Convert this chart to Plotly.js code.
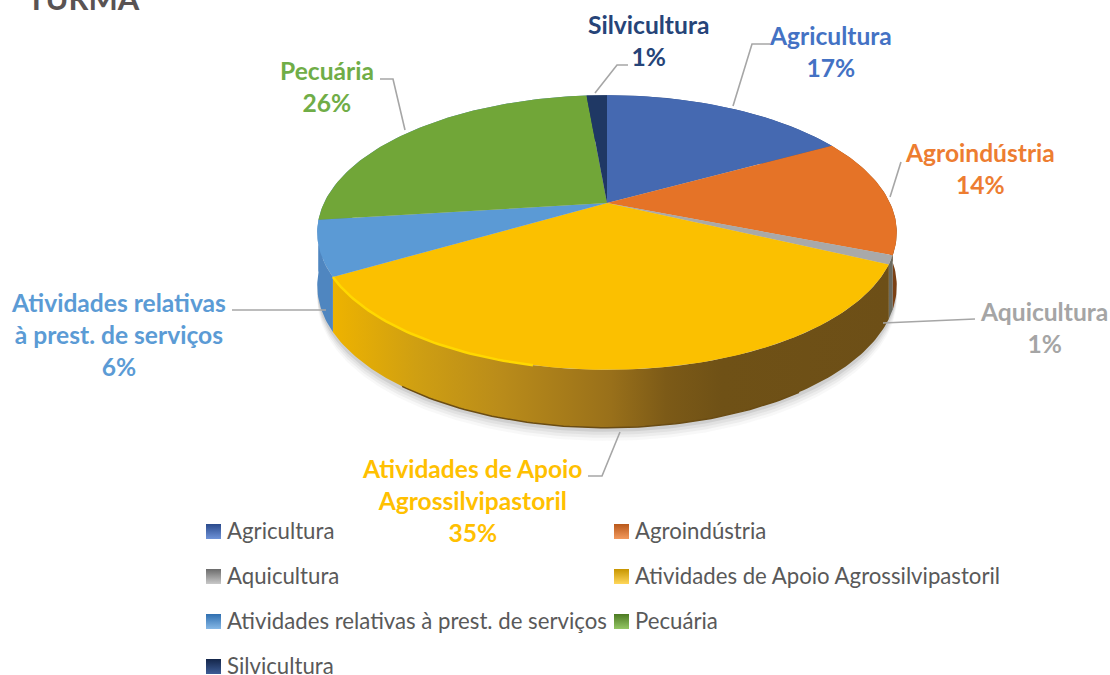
<!DOCTYPE html>
<html><head><meta charset="utf-8">
<script src="https://cdn.plot.ly/plotly-3.0.1.min.js"></script>
<style>html,body{margin:0;padding:0;background:#fff;overflow:hidden}#c{width:1110px;height:675px}</style>
</head><body><div id="c"></div>
<script>
// ---- data ----
const categories = ['Agricultura','Agroindústria','Aquicultura','Atividades de Apoio Agrossilvipastoril','Atividades relativas à prest. de serviços','Pecuária','Silvicultura'];
const shares = [17,14,1,34.6,6.4,25.6,1.4];
const labelLines = [['Agricultura'],['Agroindústria'],['Aquicultura'],['Atividades de Apoio','Agrossilvipastoril'],['Atividades relativas','à prest. de serviços'],['Pecuária'],['Silvicultura']];
const chartTitle = 'TURMA';

// ---- styles ----
const topColors = ['#4569b1','#e57327','#a9a9a9','#fbc000','#5b9ad5','#71a638','#1f3864'];
const labelColors = ['#4472c4','#ed7d31','#a5a5a5','#ffc000','#5b9bd5','#70ad47','#264478'];
const wallScales = [
  [[0,'#35528a'],[1,'#35528a']],
  [[0,'#a0561c'],[1,'#7a4014']],
  [[0,'#6b6b60'],[1,'#6b6b60']],
  [[0,'#eeb300'],[.15,'#cf9f12'],[.3,'#ba8c1a'],[.5,'#99701a'],[.6,'#7c5a17'],[.7,'#6f5116'],[1,'#6d4f17']],
  [[0,'#4f86c0'],[1,'#4f86c0']],
  [[0,'#4f86c0'],[1,'#4f86c0']],
  [[0,'#1f3864'],[1,'#1f3864']]
];
const legendDark = ['#2a4a8c','#b9581a','#6b6b6b','#c79500','#2f6fb0','#4c7a22','#14264a'];
const legendLight = ['#6f93d8','#f39a5e','#c9c9c9','#ffd75a','#86b8e6','#94c765','#3d5c96'];

// ---- layout geometry (pixels of the 1110x675 frame) ----
const apex = {x:607,y:203}, persp = 0.2146, radX = 283, radY = 131;
const labelPos = [[830,51],[980,168],[1044,327],[472,500],[118,334],[327,86],[648,40]];
const leaders = [
  [[770,44],[752,44],[733,106]],
  [[901,162],[890,197]],
  [[975,319],[883,323]],
  [[588,476],[602,476],[620,432]],
  [[232,310],[326,310]],
  [[380,79],[393,79],[405,130]],
  [[628,65],[617,65],[595,93]]
];
const keyPos = [[213.5,531.5],[621.5,531.5],[213.5,576.5],[621.5,576.5],[213.5,621.5],[621.5,621.5],[213.5,666.5]];
const keyTextPos = [[227,533],[635,533],[227,578],[635,578],[227,623],[635,623],[227,668]];

function project(t){
  const u=Math.sin(t), v=Math.cos(t), d=1+persp*v;
  return {x:apex.x+radX*u/d, y:apex.y-radY*v/d, drop:52-6*v};
}
function arcAngles(a,b){
  const out=[]; const n=Math.max(2,Math.ceil((b-a)/(Math.PI/180)));
  for(let i=0;i<=n;i++) out.push(a+(b-a)*i/n);
  return out;
}
const total = shares.reduce((s,v)=>s+v,0);
let acc=0;
const spans = shares.map(v=>{const a=acc/total*2*Math.PI; acc+=v; return [a,acc/total*2*Math.PI];});
const pct = shares.map(v=>Math.round(v/total*100)+'%');

const traces=[];
// soft drop shadow
[[13,'rgba(160,160,160,0.07)'],[10,'rgba(150,150,150,0.10)'],[7,'rgba(150,150,150,0.13)'],[4,'rgba(130,130,130,0.18)']].forEach(([off,col])=>{
  const pts=arcAngles(0,2*Math.PI).map(project);
  traces.push({type:'scatter',mode:'lines',x:pts.map(p=>p.x),y:pts.map(p=>p.y+p.drop+off),fill:'toself',fillcolor:col,line:{width:0},hoverinfo:'skip',showlegend:false});
});
// side walls
spans.forEach(([a,b],i)=>{
  const pts=arcAngles(a,b).map(project);
  const xs=pts.map(p=>p.x).concat(pts.slice().reverse().map(p=>p.x));
  const ys=pts.map(p=>p.y).concat(pts.slice().reverse().map(p=>p.y+p.drop));
  const mn=Math.min(...xs), mx=Math.max(...xs);
  traces.push({type:'scatter',mode:'lines',x:xs,y:ys,fill:'toself',line:{width:0,color:wallScales[i][0][1]},
    fillgradient:{type:'horizontal',colorscale:wallScales[i],start:mn,stop:mx},
    name:categories[i]+' (lateral)',hoverinfo:'skip',showlegend:false});
});
// dark lower rim of the largest wall
(function(){
  const s=spans[3], pts=arcAngles(s[0],s[1]).map(project).filter(p=>p.x<800 && p.x>400);
  traces.push({type:'scatter',mode:'lines',x:pts.map(p=>p.x),y:pts.map(p=>p.y+p.drop),line:{color:'#6a4c14',width:1.5},hoverinfo:'skip',showlegend:false});
})();
// top faces
spans.forEach(([a,b],i)=>{
  const pts=arcAngles(a,b).map(project);
  traces.push({type:'scatter',mode:'lines',x:[apex.x].concat(pts.map(p=>p.x),[apex.x]),y:[apex.y].concat(pts.map(p=>p.y),[apex.y]),
    fill:'toself',fillcolor:topColors[i],line:{width:0,color:topColors[i]},name:categories[i],
    text:pct[i],hoverinfo:'name+text',showlegend:false});
});
// bevel highlight on the front-left rim of the largest slice
(function(){
  const s=spans[3], pts=arcAngles(s[0],s[1]).map(project).filter(p=>p.x<535);
  traces.push({type:'scatter',mode:'lines',x:pts.map(p=>p.x),y:pts.map(p=>p.y),line:{color:'#ffd800',width:2.5},hoverinfo:'skip',showlegend:false});
})();
// leader lines
leaders.forEach(seg=>{
  traces.push({type:'scatter',mode:'lines',x:seg.map(p=>p[0]),y:seg.map(p=>p[1]),line:{color:'#a6a6a6',width:1.6},hoverinfo:'skip',showlegend:false});
});
// legend keys and entries
categories.forEach((name,c)=>{
  traces.push({type:'scatter',mode:'markers',x:[keyPos[c][0]],y:[keyPos[c][1]],
    marker:{symbol:'square',size:15,color:legendDark[c],gradient:{type:'vertical',color:legendLight[c]},line:{width:0}},
    cliponaxis:false,hoverinfo:'skip',showlegend:false});
  traces.push({type:'scatter',mode:'text',x:[keyTextPos[c][0]],y:[keyTextPos[c][1]],
    text:[name],textposition:'middle right',textfont:{family:'Lato, sans-serif',size:22.2,color:'#595959'},
    cliponaxis:false,hoverinfo:'skip',showlegend:false});
});

const annotations = labelLines.map((lines,i)=>({
  xref:'x',yref:'y',x:labelPos[i][0],y:labelPos[i][1],xanchor:'center',yanchor:'middle',showarrow:false,align:'center',
  text:lines.concat([pct[i]]).map(t=>'<b>'+t+'</b>').join('<br>'),
  font:{family:'Lato, sans-serif',size:24.6,color:labelColors[i]}
}));
annotations.push({xref:'x',yref:'y',x:26,y:18,xanchor:'left',yanchor:'bottom',showarrow:false,
  text:'<b>'+chartTitle+'</b>',font:{family:'Lato, sans-serif',size:31,color:'#595353'},borderpad:0});

Plotly.newPlot('c',traces,{
  width:1110,height:675,margin:{l:0,r:0,t:0,b:0},paper_bgcolor:'#fff',plot_bgcolor:'#fff',showlegend:false,
  xaxis:{range:[0,1110],visible:false,fixedrange:true},
  yaxis:{range:[675,0],visible:false,fixedrange:true},
  annotations
},{displayModeBar:false});
</script></body></html>
